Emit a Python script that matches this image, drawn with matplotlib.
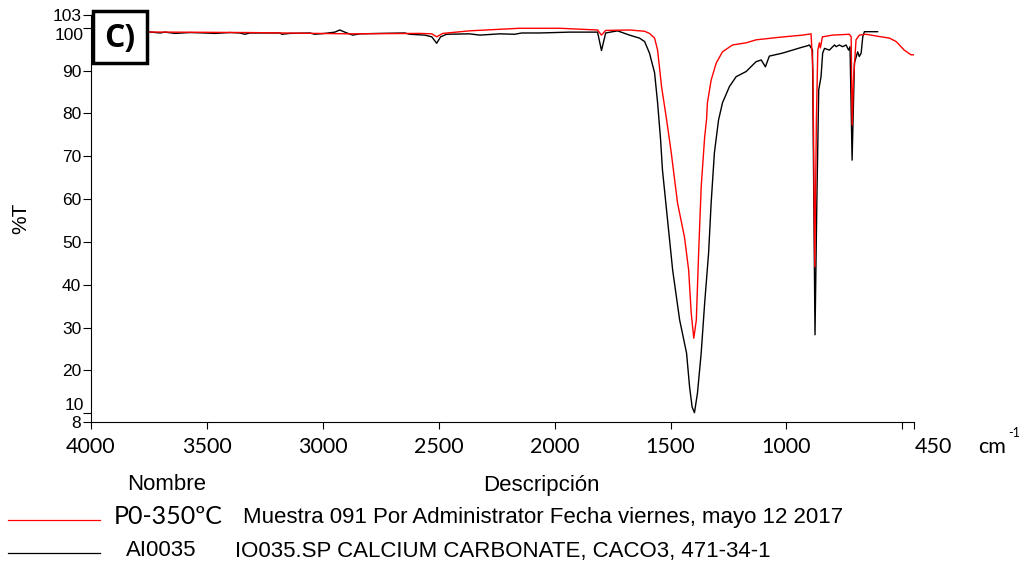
import matplotlib
matplotlib.use("Agg")
import matplotlib.pyplot as plt
from matplotlib.lines import Line2D
from matplotlib.patches import Rectangle

# red: P0-350ºC sample (wavenumber, %T)
red_wn = [4000, 3315, 2884, 2582, 2530, 2509, 2483, 2367, 2151, 1979, 1815, 1798,
          1780, 1677, 1612, 1591, 1569, 1556, 1539, 1517, 1497, 1470, 1440, 1422,
          1411, 1400, 1389, 1379, 1368, 1353, 1345, 1341, 1325, 1303, 1276, 1233,
          1174, 1131, 1030, 931, 894, 886, 878, 871, 865, 858, 854, 845, 802, 729,
          721, 717, 711, 700, 686, 657, 614, 556, 527, 492, 463, 452]
red_t = [99.1, 98.9, 98.6, 98.7, 98.6, 97.9, 98.7, 99.3, 99.9, 99.9, 99.5, 98.3,
         99.4, 99.5, 99.2, 98.7, 97.6, 94.8, 86.3, 78.5, 70.8, 59.1, 51.1, 43.4,
         33.4, 27.5, 31.7, 47.4, 62.8, 74.5, 78.5, 82.5, 87.8, 91.8, 94.4, 96.0,
         96.5, 97.2, 97.8, 98.3, 98.6, 90.0, 44.2, 78.5, 94.8, 96.5, 95.3, 97.9, 98.3, 98.5,
         97.9, 77.3, 87.8, 97.2, 98.3, 98.5, 98.1, 97.6, 96.8, 94.8, 93.7, 93.7]

# black: AI0035 calcium carbonate reference
black_wn = [4000, 3759, 3703, 3681, 3638, 3573, 3509, 3466, 3401, 3358, 3336, 3315,
            3185, 3177, 3142, 3056, 3035, 2991, 2948, 2927, 2901, 2871, 2841, 2754,
            2647, 2625, 2560, 2530, 2509, 2492, 2466, 2367, 2323, 2237, 2173, 2142,
            2065, 1935, 1815, 1798, 1780, 1729, 1677, 1634, 1612, 1591, 1569, 1556,
            1543, 1535, 1513, 1491, 1461, 1431, 1418, 1407, 1397, 1384, 1368, 1353,
            1336, 1325, 1311, 1293, 1276, 1246, 1217, 1174, 1131, 1109, 1091, 1074,
            1017, 974, 931, 910, 901, 888, 877, 869, 861, 851, 844, 836, 815, 793,
            786, 772, 758, 743, 732, 726, 717, 707, 693, 686, 678, 671, 664, 607]
black_t = [99.0, 99.1, 98.8, 99.0, 98.7, 98.9, 98.8, 98.7, 98.9, 98.8, 98.5, 98.8,
           98.8, 98.5, 98.7, 98.8, 98.5, 98.7, 99.0, 99.5, 98.9, 98.3, 98.6, 98.7,
           98.8, 98.5, 98.3, 97.9, 96.4, 97.9, 98.5, 98.6, 98.3, 98.6, 98.5, 98.8,
           98.8, 99.0, 99.0, 94.7, 98.8, 99.3, 98.3, 97.6, 96.8, 94.1, 89.5, 82.5,
           73.8, 66.8, 55.1, 43.4, 31.8, 24.0, 16.1, 11.4, 10.1, 14.7, 24.0, 35.7,
           47.4, 59.1, 70.8, 78.5, 82.5, 86.3, 88.6, 89.8, 92.1, 92.5, 90.9, 93.4,
           94.1, 94.8, 95.5, 95.8, 96.0, 94.8, 28.3, 59.8, 85.5, 88.6, 94.1, 95.2, 94.8, 96.0,
           95.6, 96.0, 95.6, 96.0, 94.8, 95.6, 69.1, 91.8, 94.4, 93.3, 94.1, 97.9, 99.1, 99.1]

x_ticks = [4000, 3500, 3000, 2500, 2000, 1500, 1000, 500, 450]
x_labels = ["4000", "3500", "3000", "2500", "2000", "1500", "1000", "", ""]
y_ticks = [8, 10, 20, 30, 40, 50, 60, 70, 80, 90, 100, 103]
y_labels = ["8", "", "20", "30", "40", "50", "60", "70", "80", "90", "", "103"]

arial = "Liberation Sans"
calibri = "Lato"

fig = plt.figure(figsize=(10.28, 5.65), dpi=100)
ax = fig.add_axes((91 / 1028, 1 - 421.7 / 565, 823 / 1028, 406.7 / 565))

ax.plot(black_wn, black_t, color="black", lw=1.0)
ax.plot(red_wn, red_t, color="#ff0000", lw=1.0)

ax.set_xlim(4000, 450)
ax.set_ylim(8, 103)
ax.spines['right'].set_visible(False)
ax.spines['top'].set_visible(False)
ax.set_xticks(x_ticks)
ax.set_xticklabels(x_labels, fontfamily=calibri, fontsize=15.5)
ax.set_yticks(y_ticks)
ax.set_yticklabels(y_labels, fontfamily=arial, fontsize=12.5)
ax.tick_params(axis='x', length=5, pad=6)
ax.tick_params(axis='y', length=6, pad=1)

# shifted labels, as in the original
ax.annotate("100", xy=(0, 100), xycoords=('axes fraction', 'data'), xytext=(-7, -8),
            textcoords='offset pixels', ha='right', va='center', fontfamily=arial, fontsize=12.5)
ax.annotate("10", xy=(0, 10), xycoords=('axes fraction', 'data'), xytext=(-7, 8),
            textcoords='offset pixels', ha='right', va='center', fontfamily=arial, fontsize=12.5)

ax.set_ylabel("%T", fontfamily=arial, fontsize=15, labelpad=16)

fig.text(915 / 1028, 1 - 447 / 565, "450", fontfamily=calibri, fontsize=15.5, va='center')
fig.text(978 / 1028, 1 - 447 / 565, "cm", fontfamily=calibri, fontsize=15.5, va='center')
fig.text(1008 / 1028, 1 - 433 / 565, "-1", fontfamily=calibri, fontsize=9, va='center')

# panel tag box
fig.add_artist(Rectangle((93 / 1028, 1 - 63 / 565), 54 / 1028, 52 / 565, transform=fig.transFigure,
                         facecolor="white", edgecolor="black", lw=2.5, zorder=5))
fig.text(120 / 1028, 1 - 38 / 565, "C)", fontfamily="Open Sans", fontweight="bold",
         fontsize=23, ha='center', va='center', zorder=6)

# legend table below the plot
fig.text(127 / 1028, 1 - 485 / 565, "Nombre", fontfamily=arial, fontsize=16, va='center')
fig.text(483 / 1028, 1 - 485 / 565, "Descripción", fontfamily=arial, fontsize=16, va='center')
fig.add_artist(Line2D([8 / 1028, 100 / 1028], [1 - 520 / 565] * 2, transform=fig.transFigure,
                      color="#ff0000", lw=0.9))
fig.add_artist(Line2D([8 / 1028, 100 / 1028], [1 - 553 / 565] * 2, transform=fig.transFigure,
                      color="black", lw=0.9))
fig.text(114 / 1028, 1 - 517 / 565, "P0-350ºC", fontfamily=calibri, fontsize=18, va='center')
fig.text(243 / 1028, 1 - 518 / 565, "Muestra 091 Por Administrator Fecha viernes, mayo 12 2017",
         fontfamily=arial, fontsize=16, va='center')
fig.text(126 / 1028, 1 - 551 / 565, "AI0035", fontfamily=arial, fontsize=16, va='center')
fig.text(235 / 1028, 1 - 551 / 565, "IO035.SP CALCIUM CARBONATE, CACO3, 471-34-1",
         fontfamily=arial, fontsize=16, va='center')

fig.savefig("out.png", dpi=100)
